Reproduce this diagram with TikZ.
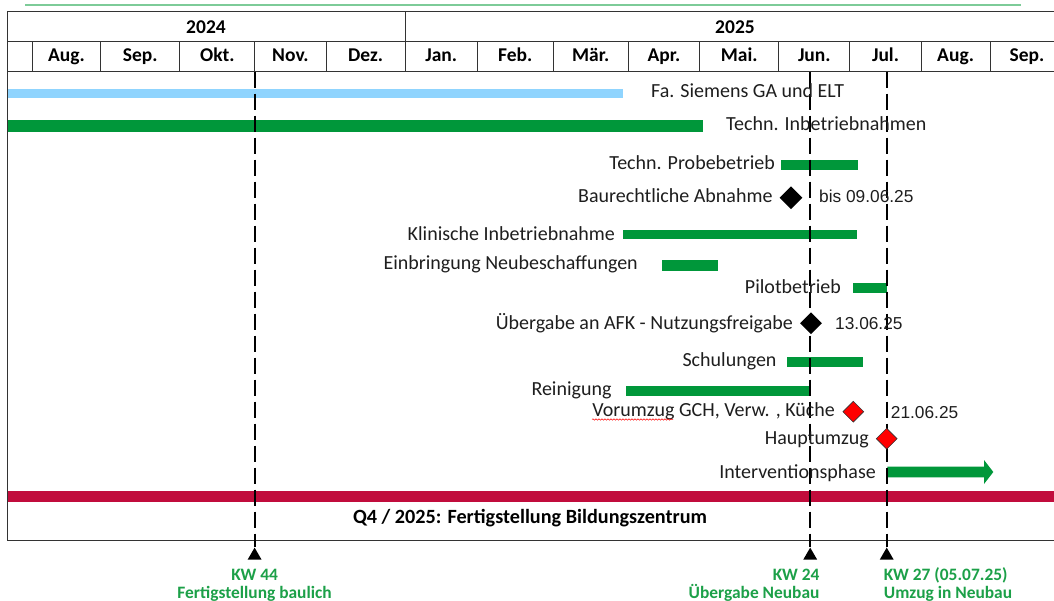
\documentclass[tikz,border=0pt]{standalone}
\usepackage{fontspec}
\setmainfont{Carlito}
\newfontfamily\datefont{Liberation Sans}
\usetikzlibrary{shapes.geometric}
\usetikzlibrary{decorations.pathmorphing}
\definecolor{barblue}{RGB}{143,212,254}
\definecolor{bargreen}{RGB}{0,151,58}
\definecolor{barred}{RGB}{193,12,60}
\definecolor{kwgreen}{RGB}{28,160,72}
\definecolor{linegreen}{RGB}{125,203,152}
\definecolor{labeltext}{RGB}{30,30,30}
\newcommand{\ganttbar}[5]{\fill[#5] (#1,#3) rectangle (#2,#4);}
\newcommand{\monthline}[1]{\draw[tableline] (#1,41.6) -- (#1,71.7);}
\tikzset{
	tableline/.style = {draw=black!80, line width=1pt},
	lbl/.style = {inner sep=0pt, text=labeltext, font=\fontsize{20}{22}\selectfont},
	datelbl/.style = {inner sep=0pt, text=labeltext, font=\datefont\fontsize{17.3}{19}\selectfont},
	head/.style = {inner sep=0pt, font=\bfseries\fontsize{19.5}{21}\selectfont},
	kwlbl/.style = {inner sep=0pt, text=kwgreen, font=\bfseries\fontsize{17.4}{19}\selectfont},
	kwline/.style = {line width=2pt, dash pattern=on 16pt off 6pt},
	kwmark/.style = {regular polygon, regular polygon sides=3, fill=black, minimum size=16pt, inner sep=0pt},
	msblack/.style = {diamond, fill=black, minimum size=23pt, inner sep=0pt},
	msred/.style = {diamond, fill=red, draw=black!80, line width=0.6pt, minimum size=21pt, inner sep=0pt}
}

\begin{document}
\begin{tikzpicture}[x=1pt, y=-1pt]
	\useasboundingbox (0,0) rectangle (1054,601);

	\draw[linegreen, line width=1.5pt] (25,5) -- (1021,5);

	\ganttbar{7.4}{623}{88.6}{98}{barblue}
	\ganttbar{7.4}{703}{120}{132.5}{bargreen}
	\ganttbar{781}{857.5}{159.6}{169.8}{bargreen}
	\ganttbar{623}{857}{230.5}{239.5}{bargreen}
	\ganttbar{662}{718}{260}{271}{bargreen}
	\ganttbar{852.7}{887}{282.7}{292.7}{bargreen}
	\ganttbar{786.7}{862.7}{356.7}{366.7}{bargreen}
	\ganttbar{625.7}{810}{385.7}{395.7}{bargreen}
	\fill[bargreen] (887.3,466.7) -- (984,466.7) -- (984,460) -- (993.3,472) -- (984,484) -- (984,477.3) -- (887.3,477.3) -- cycle;
	\fill[barred] (7.4,491) rectangle (1065,502);

	\draw[tableline] (7.4,540) -- (7.4,12) -- (1065,12);
	\draw[tableline] (7.4,41.6) -- (1065,41.6);
	\draw[tableline] (7.4,71.7) -- (1065,71.7);
	\draw[tableline] (7.4,540) -- (1065,540);
	\draw[tableline] (405,12) -- (405,41.6);
	\monthline{32.1}
	\monthline{100.7}
	\monthline{179.9}
	\monthline{254.6}
	\monthline{326.2}
	\monthline{405}
	\monthline{477.4}
	\monthline{553}
	\monthline{628.3}
	\monthline{699.5}
	\monthline{778.9}
	\monthline{849.7}
	\monthline{921.2}
	\monthline{990}

	\node[head, anchor=base] (y2024) at (206,33.8) {2024};
	\node[head, anchor=base] (y2025) at (735,33.8) {2025};
	\node[head, anchor=base] (aug24) at (66.4,61.9) {Aug.};
	\node[head, anchor=base] (sep24) at (140.3,61.9) {Sep.};
	\node[head, anchor=base] (okt24) at (217.3,61.9) {Okt.};
	\node[head, anchor=base] (nov24) at (290.4,61.9) {Nov.};
	\node[head, anchor=base] (dez24) at (365.6,61.9) {Dez.};
	\node[head, anchor=base] (jan25) at (441.2,61.9) {Jan.};
	\node[head, anchor=base] (feb25) at (515.2,61.9) {Feb.};
	\node[head, anchor=base] (maer25) at (590.7,61.9) {Mär.};
	\node[head, anchor=base] (apr25) at (663.9,61.9) {Apr.};
	\node[head, anchor=base] (mai25) at (739.2,61.9) {Mai.};
	\node[head, anchor=base] (jun25) at (814.3,61.9) {Jun.};
	\node[head, anchor=base] (jul25) at (885.5,61.9) {Jul.};
	\node[head, anchor=base] (aug25) at (955.6,61.9) {Aug.};
	\node[head, anchor=base] (sep25) at (1027,61.9) {Sep.};

	\coordinate (kw44top) at (254.6,71.7);
	\coordinate (kw24top) at (810.2,71.7);
	\coordinate (kw27top) at (886.7,71.7);
	\node[kwmark] (kw44mark) at (254.6,555.6) {};
	\node[kwmark] (kw24mark) at (810.2,555.6) {};
	\node[kwmark] (kw27mark) at (886.7,555.6) {};
	\draw[kwline] (kw44top) -- (kw44mark.corner 1);
	\draw[kwline] (kw24top) -- (kw24mark.corner 1);
	\draw[kwline] (kw27top) -- (kw27mark.corner 1);

	\node[lbl, anchor=base west] (siemens) at (651,98) {Fa. Siemens GA und ELT};
	\node[lbl, anchor=base west] (inbetrieb) at (726,130.6) {Techn. Inbetriebnahmen};
	\node[lbl, anchor=base east] (probe) at (775,169.5) {Techn. Probebetrieb};
	\node[lbl, anchor=base east] (abnahme) at (772.7,202.8) {Baurechtliche Abnahme};
	\node[datelbl, anchor=base west] (abnahmedate) at (819,202.8) {bis 09.06.25};
	\node[lbl, anchor=base east] (klinik) at (615,240.7) {Klinische Inbetriebnahme};
	\node[lbl, anchor=base east] (einbringung) at (638,270) {Einbringung Neubeschaffungen};
	\node[lbl, anchor=base east] (pilot) at (841,293.3) {Pilotbetrieb};
	\node[lbl, anchor=base east] (afk) at (793,329.3) {Übergabe an AFK - Nutzungsfreigabe};
	\node[datelbl, anchor=base west] (afkdate) at (835,329.3) {13.06.25};
	\node[lbl, anchor=base east] (schulung) at (776.7,366.7) {Schulungen};
	\node[lbl, anchor=base east] (reinigung) at (611.7,395.7) {Reinigung};
	\node[lbl, anchor=base east] (vorumzug) at (835,416) {Vorumzug GCH, Verw. , Küche};
	\node[datelbl, anchor=base west] (umzugdate) at (890.7,418.7) {21.06.25};
	\node[lbl, anchor=base east] (hauptumzug) at (869,444.3) {Hauptumzug};
	\node[lbl, anchor=base east] (intervention) at (876,478.3) {Interventionsphase};
	\draw[red, line width=0.5pt, decorate, decoration={snake, amplitude=0.7pt, segment length=3pt}] (592,419.5) -- (673,419.5);

	\node[msblack] (abnahmems) at (791,197.7) {};
	\node[msblack, minimum size=22pt] (afkms) at (811,323.3) {};
	\node[msred] (vorumzugms) at (853.3,411.7) {};
	\node[msred] (hauptumzugms) at (886.7,438.7) {};

	\node[head, anchor=base, font=\bfseries\fontsize{20.2}{22}\selectfont] (q4) at (530,523.3) {Q4 / 2025: Fertigstellung Bildungszentrum};

	\node[kwlbl, anchor=base] (kw44) at (254.6,580.5) {KW 44};
	\node[kwlbl, anchor=base] (kw44txt) at (254.6,598.5) {Fertigstellung baulich};
	\node[kwlbl, anchor=base east] (kw24) at (819.7,580.5) {KW 24};
	\node[kwlbl, anchor=base east] (kw24txt) at (819.7,598.5) {Übergabe Neubau};
	\node[kwlbl, anchor=base west] (kw27) at (883.7,580.5) {KW 27 (05.07.25)};
	\node[kwlbl, anchor=base west] (kw27txt) at (883.7,598.5) {Umzug in Neubau};
\end{tikzpicture}
\end{document}
